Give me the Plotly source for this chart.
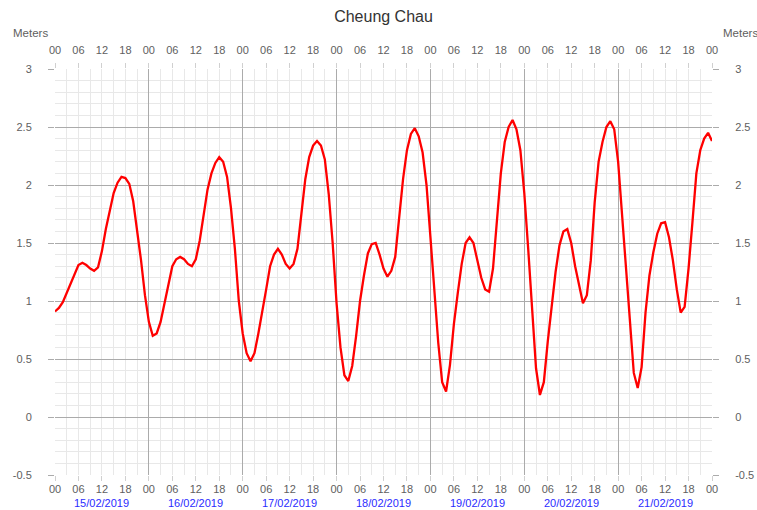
import plotly.graph_objects as go
import pandas as pd

title = "Cheung Chau"
unit_label = "Meters"
start_time = "2019-02-15 00:00"
end_time = "2019-02-22 00:00"
date_labels = ["15/02/2019", "16/02/2019", "17/02/2019", "18/02/2019",
               "19/02/2019", "20/02/2019", "21/02/2019"]
y_tick_vals = [-0.5, 0, 0.5, 1, 1.5, 2, 2.5, 3]
y_tick_text = ["-0.5", "0", "0.5", "1", "1.5", "2", "2.5", "3"]

# hourly tide height (m)
tide_m = [
    0.91, 0.94, 0.99, 1.07, 1.15, 1.24, 1.31, 1.33, 1.31, 1.28, 1.26, 1.29,
    1.43, 1.62, 1.78, 1.93, 2.02, 2.07, 2.06, 2.01, 1.86, 1.62, 1.35, 1.05,
    0.82, 0.70, 0.72, 0.82, 0.98, 1.15, 1.30, 1.36, 1.38, 1.36, 1.32, 1.30,
    1.36, 1.52, 1.73, 1.96, 2.10, 2.19, 2.24, 2.20, 2.07, 1.80, 1.45, 1.00,
    0.72, 0.55, 0.48, 0.55, 0.72, 0.90, 1.10, 1.30, 1.40, 1.45, 1.40, 1.32,
    1.28, 1.32, 1.45, 1.75, 2.05, 2.24, 2.34, 2.38, 2.34, 2.22, 1.92, 1.50,
    0.98, 0.60, 0.36, 0.31, 0.44, 0.70, 1.00, 1.22, 1.41, 1.49, 1.50, 1.40,
    1.28, 1.21, 1.26, 1.38, 1.70, 2.05, 2.30, 2.44, 2.49, 2.42, 2.28, 2.00,
    1.55, 1.10, 0.64, 0.30, 0.22, 0.45, 0.80, 1.07, 1.32, 1.50, 1.55, 1.50,
    1.36, 1.20, 1.10, 1.08, 1.28, 1.70, 2.10, 2.37, 2.50, 2.56, 2.48, 2.30,
    1.93, 1.45, 0.90, 0.42, 0.19, 0.30, 0.65, 0.98, 1.25, 1.48, 1.60, 1.62,
    1.50, 1.30, 1.13, 0.98, 1.05, 1.35, 1.85, 2.20, 2.37, 2.50, 2.55, 2.48,
    2.20, 1.75, 1.25, 0.81, 0.38, 0.25, 0.43, 0.90, 1.22, 1.42, 1.58, 1.67,
    1.68, 1.55, 1.35, 1.10, 0.90, 0.95, 1.28, 1.68, 2.10, 2.30, 2.40, 2.45,
    2.38,
]

times = pd.date_range(start_time, periods=len(tide_m), freq="h")
day_noons = pd.date_range(start_time, periods=len(date_labels), freq="D") + pd.Timedelta(hours=12)

FONT = "Liberation Sans, Arial, sans-serif"
LABEL = "#606060"
DARK = "#ababab"
LIGHT = "#e8e8e8"

fig = go.Figure()
fig.add_trace(go.Scatter(x=times, y=tide_m, mode="lines",
                         line=dict(color="#ff0000", width=2.3),
                         showlegend=False, hoverinfo="x+y"))
# helper traces so that the extra axes exist
fig.add_trace(go.Scatter(x=times, y=tide_m, xaxis="x2", yaxis="y2", mode="lines",
                         line=dict(width=0), showlegend=False, hoverinfo="skip"))
fig.add_trace(go.Scatter(x=times, y=tide_m, xaxis="x3", yaxis="y", mode="lines",
                         line=dict(width=0), showlegend=False, hoverinfo="skip"))

tick_common = dict(
    type="date", range=[start_time, end_time], tickformat="%H",
    tick0=start_time, dtick=6 * 3600 * 1000,
    showgrid=False, zeroline=False, showline=False,
    ticks="outside", ticklen=5, tickcolor="#d0d0d0",
    tickfont=dict(family=FONT, size=11, color=LABEL),
    automargin=False, fixedrange=True,
)

fig.update_layout(
    width=757, height=510,
    margin=dict(l=55, r=45, t=69, b=35),
    paper_bgcolor="white", plot_bgcolor="white",
    title=dict(text=title, x=0.5, xref="paper", xanchor="center",
               y=1, yref="container", yanchor="top", pad=dict(t=11),
               font=dict(family=FONT, size=16, color="#333333")),
    xaxis=dict(**tick_common, side="bottom", ticklabelstandoff=-1),
    xaxis2=dict(**tick_common, side="top", overlaying="x", anchor="y", ticklabelstandoff=5),
    xaxis3=dict(type="date", range=[start_time, end_time], overlaying="x", anchor="y",
                tick0=start_time, dtick=24 * 3600 * 1000,
                showticklabels=False, ticks="", showgrid=True, gridcolor=DARK, gridwidth=1.4,
                minor=dict(dtick=3 * 3600 * 1000, tick0=start_time, showgrid=True,
                           gridcolor=LIGHT, gridwidth=1),
                zeroline=False, showline=False, fixedrange=True),
    yaxis=dict(range=[-0.5, 3], tickvals=y_tick_vals, ticktext=y_tick_text,
               showgrid=True, gridcolor=DARK, gridwidth=1.4,
               minor=dict(dtick=0.1, tick0=0, showgrid=True, gridcolor=LIGHT, gridwidth=1),
               zeroline=False, showline=False,
               ticks="outside", ticklen=6, tickcolor=DARK, ticklabelstandoff=14,
               tickfont=dict(family=FONT, size=11, color=LABEL),
               automargin=False, fixedrange=True),
    yaxis2=dict(range=[-0.5, 3], tickvals=y_tick_vals, ticktext=y_tick_text,
                overlaying="y", side="right", anchor="x",
                showgrid=False, zeroline=False, showline=False,
                ticks="outside", ticklen=6, tickcolor=DARK, ticklabelstandoff=14,
                tickfont=dict(family=FONT, size=11, color=LABEL),
                automargin=False, fixedrange=True),
)

for d, lab in zip(day_noons, date_labels):
    fig.add_annotation(x=d, y=0, xref="x", yref="paper", text=lab, showarrow=False,
                       yanchor="top", yshift=-20,
                       font=dict(family=FONT, size=11, color="#2b2bff"))

fig.add_annotation(x=0, y=1, xref="paper", yref="paper", text=unit_label, showarrow=False,
                   xanchor="right", yanchor="bottom", xshift=-5, yshift=28,
                   font=dict(family=FONT, size=11.5, color=LABEL))
fig.add_annotation(x=1, y=1, xref="paper", yref="paper", text=unit_label, showarrow=False,
                   xanchor="left", yanchor="bottom", xshift=9, yshift=28,
                   font=dict(family=FONT, size=11.5, color=LABEL))

# remove the default page margin so the 757x510 figure fills the window exactly
page_fix = "document.body.style.margin='0';document.body.style.overflow='hidden';"
fig.write_html("out.html", post_script=page_fix, config={"displayModeBar": False})
